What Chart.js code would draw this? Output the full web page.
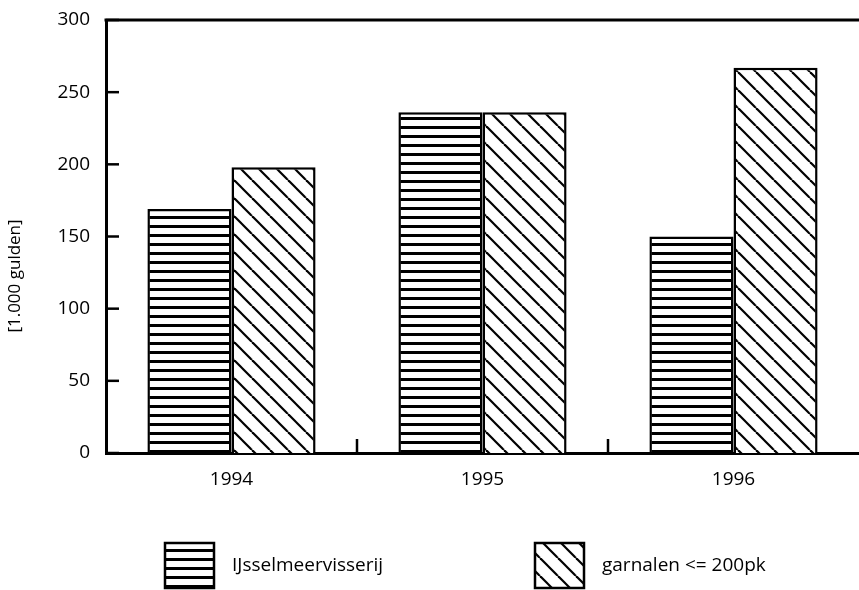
<!DOCTYPE html>
<html>
<head>
<meta charset="utf-8">
<script src="https://cdn.jsdelivr.net/npm/chart.js@4/dist/chart.umd.min.js"></script>
<style>
  html, body { margin: 0; padding: 0; background: #fff; overflow: hidden; }
  canvas { display: block; }
</style>
</head>
<body>
<canvas id="barChart" width="859" height="590"></canvas>
<script>
// DATA //
var categories = ['1994', '1995', '1996'];
var ijsselmeerValues = [169, 236, 150];
var garnalenValues = [198, 236, 267];
var seriesLabels = ['IJsselmeervisserij', 'garnalen <= 200pk'];
var yTicks = [0, 50, 100, 150, 200, 250, 300];
var yTitle = '[1.000 gulden]';

var FONT = 'Open Sans';

// HATCH PATTERNS //
function stripesPattern() {
    var c = document.createElement('canvas');
    c.width = 9; c.height = 9;
    var g = c.getContext('2d');
    g.fillStyle = '#fff';
    g.fillRect(0, 0, 9, 9);
    g.fillStyle = '#000';
    g.fillRect(0, 0, 9, 3);
    return g.createPattern(c, 'repeat');
}

function diagonalPattern() {
    var s = 18;
    var c = document.createElement('canvas');
    c.width = s; c.height = s;
    var g = c.getContext('2d');
    g.fillStyle = '#fff';
    g.fillRect(0, 0, s, s);
    g.strokeStyle = '#000';
    g.lineWidth = 2.2;
    [-s, 0, s].forEach(k => {
        g.beginPath();
        g.moveTo(k, 0);
        g.lineTo(k + s, s);
        g.stroke();
    });
    return g.createPattern(c, 'repeat');
}

function line(ctx, x1, y1, x2, y2) {
    ctx.beginPath();
    ctx.moveTo(x1, y1);
    ctx.lineTo(x2, y2);
    ctx.stroke();
}

// frame top line, inward ticks, y title and the legend
var frameDecor = {
    id: 'frameDecor',
    afterDraw(chart) {
        var ctx = chart.ctx;
        var a = chart.chartArea;
        var x = chart.scales.x;
        var y = chart.scales.y;
        ctx.save();
        ctx.strokeStyle = '#000';

        ctx.lineWidth = 3;
        line(ctx, a.left - 1.5, a.top, a.right, a.top);

        ctx.lineWidth = 2.5;
        yTicks.forEach(v => {
            var py = y.getPixelForValue(v);
            line(ctx, a.left, py, a.left + 13, py);
        });
        for (var i = 0; i < categories.length - 1; i++) {
            var px = (x.getPixelForValue(i) + x.getPixelForValue(i + 1)) / 2;
            line(ctx, px, a.bottom, px, a.bottom - 14);
        }

        // y title, a bit below the middle like the print
        ctx.save();
        ctx.translate(15, 276);
        ctx.rotate(-Math.PI / 2);
        ctx.fillStyle = '#000';
        ctx.font = '17px "' + FONT + '"';
        ctx.textAlign = 'center';
        ctx.textBaseline = 'middle';
        ctx.fillText(yTitle, 0, 0);
        ctx.restore();

        // legend
        var legendX = [165, 535];
        chart.data.datasets.forEach((ds, i) => {
            ctx.fillStyle = ds.backgroundColor;
            ctx.fillRect(legendX[i], 543, 49, 45);
            ctx.lineWidth = 2.5;
            ctx.strokeRect(legendX[i], 543, 49, 45);
            ctx.fillStyle = '#000';
            ctx.font = '19px "' + FONT + '"';
            ctx.textBaseline = 'middle';
            ctx.fillText(ds.label, legendX[i] + 67, 566);
        });
        ctx.restore();
    }
};

var ctxB = document.getElementById('barChart').getContext('2d');
var barChart = new Chart(ctxB, {
    type: 'bar',
    data: {
        labels: categories,
        datasets: [{
            label: seriesLabels[0],
            data: ijsselmeerValues,
            backgroundColor: stripesPattern(),
            borderColor: '#000',
            borderWidth: 2.5,
            categoryPercentage: 0.67,
            barPercentage: 1.0
        },
        {
            label: seriesLabels[1],
            data: garnalenValues,
            backgroundColor: diagonalPattern(),
            borderColor: '#000',
            borderWidth: 2.5,
            categoryPercentage: 0.67,
            barPercentage: 1.0
        }]
    },
    options: {
        responsive: false,
        animation: false,
        layout: { padding: { top: 20, left: 0, right: 0, bottom: 0 } },
        plugins: {
            legend: { display: false },
            tooltip: { enabled: false }
        },
        scales: {
            x: {
                grid: { display: false, drawTicks: false },
                border: { display: true, color: '#000', width: 3 },
                ticks: { color: '#000', padding: 15, font: { family: FONT, size: 19 } },
                afterFit: s => { s.height = 137; }
            },
            y: {
                min: 0,
                max: 300,
                // grid hidden; tick length only keeps the labels off the axis
                grid: { display: false, drawTicks: true, tickLength: 8 },
                border: { display: true, color: '#000', width: 3 },
                ticks: { stepSize: 50, color: '#000', padding: 8, font: { family: FONT, size: 19 } },
                afterFit: s => { s.width = 106; }
            }
        }
    },
    plugins: [frameDecor]
});
</script>
</body>
</html>
